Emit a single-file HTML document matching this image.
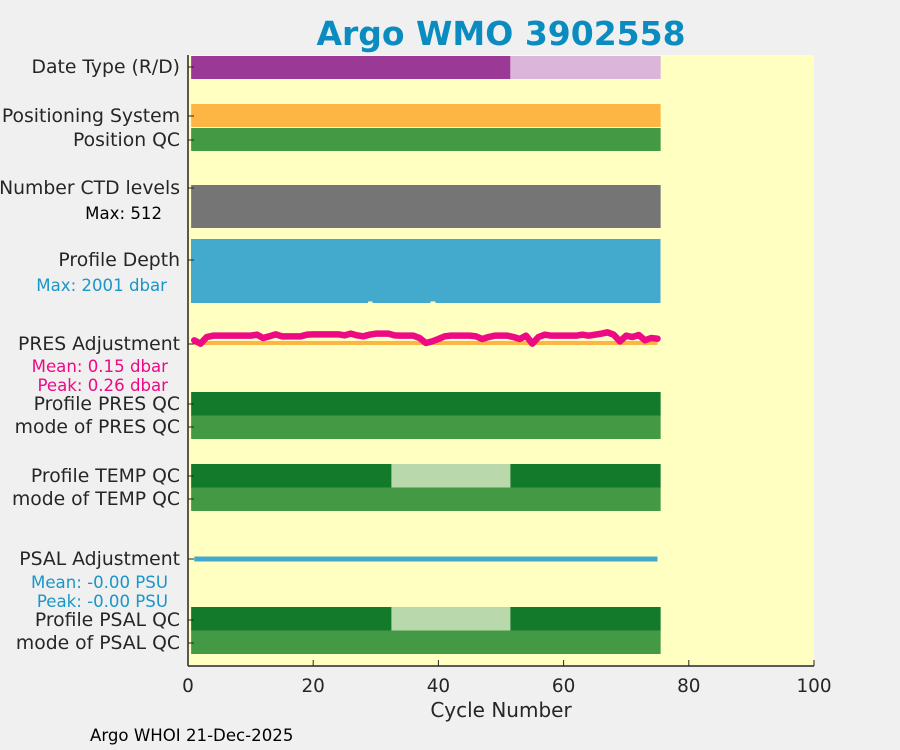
<!DOCTYPE html>
<html><head><meta charset="utf-8"><style>
body{margin:0;background:#f0f0f0;}
svg{display:block;font-family:"DejaVu Sans","Liberation Sans",sans-serif;}
</style></head><body>
<svg id="c" width="900" height="750">
<rect x="188" y="55" width="626" height="611" fill="#ffffc1"/>
<g id="marks"></g>
<g id="axes"></g>
<text x="501" y="45" text-anchor="middle" font-size="33" font-weight="bold" fill="#0b8cc0">Argo WMO 3902558</text>
<text x="501" y="717" text-anchor="middle" font-size="20" fill="#262626">Cycle Number</text>
<text x="90" y="741" font-size="16.6" fill="#000">Argo WHOI 21-Dec-2025</text>
<g font-size="18.8" fill="#262626" text-anchor="end">
<text x="180" y="73">Date Type (R/D)</text>
<text x="180" y="122">Positioning System</text>
<text x="180" y="146">Position QC</text>
<text x="180" y="194">Number CTD levels</text>
<text x="180" y="266">Profile Depth</text>
<text x="180" y="350">PRES Adjustment</text>
<text x="180" y="410">Profile PRES QC</text>
<text x="180" y="433">mode of PRES QC</text>
<text x="180" y="482">Profile TEMP QC</text>
<text x="180" y="505">mode of TEMP QC</text>
<text x="180" y="565">PSAL Adjustment</text>
<text x="180" y="626">Profile PSAL QC</text>
<text x="180" y="649">mode of PSAL QC</text>
</g>
<g font-size="16.6" text-anchor="end">
<text x="162" y="219" fill="#000">Max: 512</text>
<text x="167" y="291" fill="#1a96c8">Max: 2001 dbar</text>
<text x="168" y="372" fill="#ee0a85">Mean: 0.15 dbar</text>
<text x="168" y="391" fill="#ee0a85">Peak: 0.26 dbar</text>
<text x="168" y="588" fill="#1a96c8">Mean: -0.00 PSU</text>
<text x="168" y="607" fill="#1a96c8">Peak: -0.00 PSU</text>
</g>
</svg>
<script>
const xTicks=[0,20,40,60,80,100];
const cycles=Array.from({length:75},(_,i)=>i+1);
const presAdj=[0.065,-0.016,0.146,0.179,0.179,0.179,0.179,0.179,0.179,0.179,0.203,0.122,0.163,0.211,0.163,0.163,0.163,0.163,0.203,0.211,0.211,0.211,0.211,0.211,0.187,0.228,0.187,0.163,0.203,0.228,0.228,0.228,0.187,0.179,0.179,0.179,0.122,0.0,0.04,0.098,0.163,0.179,0.179,0.179,0.179,0.163,0.098,0.146,0.179,0.179,0.179,0.146,0.098,0.179,-0.016,0.146,0.203,0.179,0.179,0.179,0.179,0.179,0.203,0.179,0.203,0.228,0.26,0.203,0.04,0.179,0.146,0.195,0.065,0.122,0.105];
const depthMax=2001;
const depths=cycles.map(c=>(c===29||c===39)?1960:2001);
const dateSplit=51;
const qcBadStart=33, qcBadEnd=51;

const X0=188,X1=814,XMIN=0,XMAX=100;
const x=v=>X0+(v-XMIN)/(XMAX-XMIN)*(X1-X0);
const NS='http://www.w3.org/2000/svg';
const marks=document.getElementById('marks'), axes=document.getElementById('axes');
function mk(tag,attrs,parent){const e=document.createElementNS(NS,tag);for(const k in attrs)e.setAttribute(k,attrs[k]);parent.appendChild(e);return e;}
function segBar(name,y0,h,c0,c1,fill){
  const r=mk('rect',{x:x(c0-0.5),y:y0,width:x(c1+0.5)-x(c0-0.5),height:h,fill:fill},marks);
  
  
}
const last=cycles[cycles.length-1];
segBar('date-type-realtime',56,23,1,dateSplit,'#9b3a96');
segBar('date-type-delayed',56,23,dateSplit+1,last,'#dcb5da');
segBar('positioning-system-bar',104,23,1,last,'#fdb643');
segBar('position-qc-bar',128,23,1,last,'#449944');
segBar('ctd-levels-bar',185,43,1,last,'#757575');
const dTop=239,dH=64;
cycles.forEach((c,i)=>{
  const h=dH*depths[i]/depthMax;
  const w=(c===last)?x(c+0.5)-x(c-0.5):x(c+0.5)-x(c-0.5)+1.5;
  const r=mk('rect',{x:x(c-0.5),y:dTop,width:w,height:h,fill:'#43a9cd','shape-rendering':'crispEdges'},marks);
  
  
});
segBar('pres-qc-bar',392,24,1,last,'#137a2b');
segBar('pres-qc-mode-bar',415.5,23.5,1,last,'#449944');
[['temp',464],['psal',607]].forEach(([n,y])=>{
  segBar(n+'-qc-good-1',y,24,1,qcBadStart-1,'#137a2b');
  segBar(n+'-qc-probable',y,24,qcBadStart,qcBadEnd,'#b9d9ad');
  segBar(n+'-qc-good-2',y,24,qcBadEnd+1,last,'#137a2b');
  segBar(n+'-qc-mode-bar',y+23.5,23.5,1,last,'#449944');
});
const pBase=343,pScale=41;
const zl=mk('line',{x1:x(cycles[0]),x2:x(last),y1:pBase,y2:pBase,stroke:'#fdb643','stroke-width':4},marks);


const pl=mk('polyline',{points:cycles.map((c,i)=>x(c)+','+(pBase-presAdj[i]*pScale)).join(' '),fill:'none',stroke:'#ee0a85','stroke-width':6.5,'stroke-linejoin':'round','stroke-linecap':'round'},marks);


const sl=mk('line',{x1:x(cycles[0]),x2:x(last),y1:559,y2:559,stroke:'#43a9cd','stroke-width':5},marks);


const la=mk('line',{x1:X0,x2:X0,y1:55,y2:666,stroke:'#262626','stroke-width':1.5},axes);


const ba=mk('line',{x1:X0,x2:X1,y1:666,y2:666,stroke:'#262626','stroke-width':1.5},axes);


[67,116,140,188,260,344,404,427,476,499,559,620,643].forEach(y=>{
  const t=mk('line',{x1:X0,x2:X0+6,y1:y,y2:y,stroke:'#262626'},axes);
  
  
});
xTicks.forEach(v=>{
  const t=mk('line',{x1:x(v),x2:x(v),y1:666,y2:660,stroke:'#262626'},axes);
  
  
  const l=mk('text',{x:x(v),y:692,'text-anchor':'middle','font-size':18.4,fill:'#262626'},axes);
  l.textContent=v;
  
  
});
</script>
</body></html>
